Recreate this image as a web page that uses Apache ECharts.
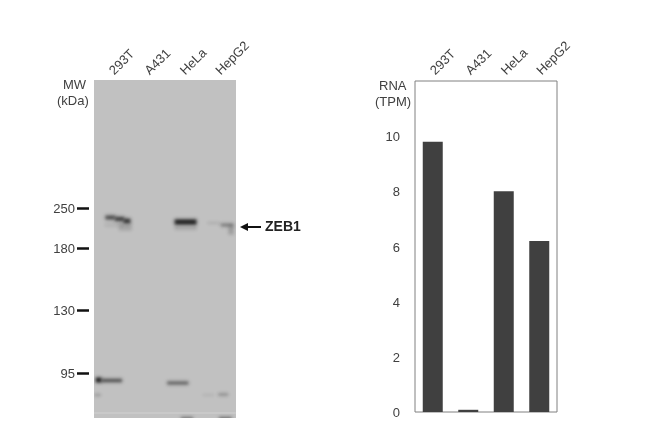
<!DOCTYPE html>
<html><head><meta charset="utf-8">
<style>html,body{margin:0;padding:0;background:#fff}#c{width:650px;height:422px}</style>
<script src="https://cdn.jsdelivr.net/npm/echarts@6/dist/echarts.min.js"></script>
</head><body><div id="c"></div>
<script>
const lanes = ['293T','A431','HeLa','HepG2'];
const rnaTpm = [9.8,0.08,8.0,6.2];
const rnaTicks = [0,2,4,6,8,10];
const mwLabels = ['250','180','130','95'];
const mwDistance = [128,168,230,293];
// band: lane position, migration distance, width (lanes), thickness (distance), darkness (negative = pale streak)
const bands = [
 [0.55,145,0.5,3,0.1],[0.88,147,0.36,7,0.16],
 [0.46,137.5,0.28,4,0.72],[0.72,139,0.26,4.4,0.78],[0.93,141,0.2,4.8,0.84],
 [2.58,148,0.62,3.5,0.16],[2.58,142,0.62,5.4,0.95],
 [3.37,143,0.34,1.5,0.18],[3.75,145,0.36,3,0.45],[3.86,150,0.14,9,0.22],
 [0.13,300,0.16,5,1],[0.5,300.5,0.58,3.4,0.7],
 [2.36,303,0.6,3.2,0.6],
 [0.1,315,0.16,2,0.3],[3.22,315,0.32,1,0.18],[3.64,314.5,0.28,1.8,0.45],
 [2,333,4,0.8,-0.3],
 [2.62,338.5,0.34,2.5,0.6],[3.7,338.5,0.36,2.5,0.65]
];
const chart = echarts.init(document.getElementById('c'));
const font = 'Liberation Sans';
const txt = '#404040';
const nudged = {a:{padding:[3,0,0,0],fontFamily:font,fontSize:13,color:txt}};
chart.setOption({
 animation:false,
 backgroundColor:'#fff',
 grid:[
  {left:94,top:80,width:142,height:338,show:true,backgroundColor:'#c1c1c1',borderWidth:0},
  {left:415,top:81,width:142,height:331,show:true,backgroundColor:'#fff',borderColor:'#808080',borderWidth:1}
 ],
 xAxis:[
  {gridIndex:0,type:'category',position:'top',data:lanes,axisLine:{show:false},axisTick:{show:false},
   axisLabel:{rotate:45,margin:7,fontFamily:font,fontSize:13,color:txt}},
  {gridIndex:1,type:'category',position:'top',data:lanes,axisLine:{show:false},axisTick:{show:false},
   axisLabel:{rotate:45,margin:8,fontFamily:font,fontSize:13,color:txt}},
  {gridIndex:0,type:'value',min:0,max:4,show:false}
 ],
 yAxis:[
  {gridIndex:0,type:'value',inverse:true,min:0,max:338,offset:5,splitLine:{show:false},axisLine:{show:false,onZero:false},
   axisTick:{show:true,customValues:mwDistance,length:12,lineStyle:{color:'#111',width:2.5}},
   axisLabel:{customValues:mwDistance,margin:14,rich:nudged,
     formatter:v=>'{a|'+mwLabels[mwDistance.indexOf(v)]+'}'}},
  {gridIndex:1,type:'value',min:0,max:12,splitLine:{show:false},axisLine:{show:false},axisTick:{show:false},
   axisLabel:{customValues:rnaTicks,margin:15,rich:nudged,formatter:v=>'{a|'+v+'}'}}
 ],
 series:[
  {type:'bar',xAxisIndex:1,yAxisIndex:1,data:rnaTpm,barWidth:20,itemStyle:{color:'#404040'},silent:true},
  {type:'custom',xAxisIndex:2,yAxisIndex:0,silent:true,clip:true,data:bands,
   encode:{x:0,y:1},
   renderItem(p,api){
    const c=api.coord([api.value(0),api.value(1)]);
    const s=api.size([api.value(2),api.value(3)]);
    const d=api.value(4);
    const col=d<0?'rgba(255,255,255,'+(-d)+')':'rgba(20,20,20,'+d+')';
    const away=2000;
    return {type:'rect',shape:{x:c[0]-s[0]/2-away,y:c[1]-s[1]/2,width:s[0],height:s[1]},
      style:{fill:'#000',shadowBlur:d<0?1:3.5,shadowColor:col,shadowOffsetX:away}};
   }}
 ],
 graphic:[
  {type:'text',left:63,top:79,style:{text:'MW',font:'13px '+font,fill:txt}},
  {type:'text',left:57,top:95,style:{text:'(kDa)',font:'13px '+font,fill:txt}},
  {type:'text',left:379,top:80,style:{text:'RNA',font:'13px '+font,fill:txt}},
  {type:'text',left:375,top:96,style:{text:'(TPM)',font:'13px '+font,fill:txt}},
  {type:'text',left:265,top:220,style:{text:'ZEB1',font:'bold 14px '+font,fill:'#222'}},
  {type:'line',shape:{x1:245,y1:227,x2:261,y2:227},style:{stroke:'#111',lineWidth:2}},
  {type:'polygon',shape:{points:[[240,227],[248,223],[248,231]]},style:{fill:'#111'}}
 ]
});
</script></body></html>
